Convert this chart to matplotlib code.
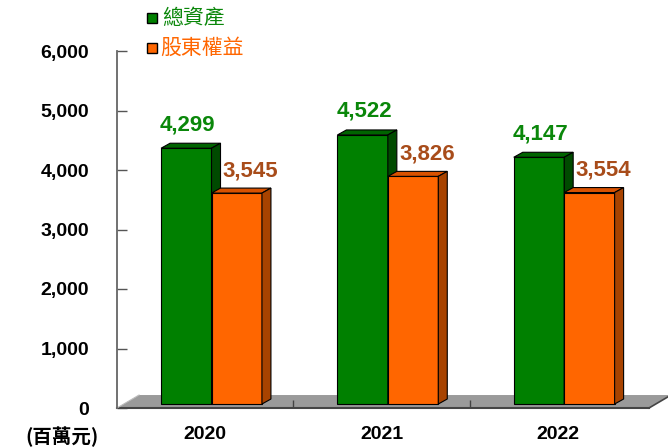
# Gráfica de barras 3D: total de activos y patrimonio (百萬元)
import numpy as np
import matplotlib.pyplot as plt
from matplotlib.patches import Polygon, Rectangle

plt.rcParams['font.family'] = ['Liberation Sans', 'Noto Sans CJK TC', 'DejaVu Sans']

# Datos
years = ['2020', '2021', '2022']
total_assets = [4299, 4522, 4147]
equity = [3545, 3826, 3554]
series_names = ['總資產', '股東權益']
unit_label = '(百萬元)'
y_ticks = [0, 1000, 2000, 3000, 4000, 5000, 6000]

# Colores (frente, tapa, lado)
green = ('#008000', '#006400', '#004a00')
orange = ('#FF6600', '#D95200', '#A84300')
green_txt, orange_txt = '#0A870A', '#A84C1A'
legend_orange = '#FF6600'

# Geometría de la profundidad
dx, dy = 0.051, 84          # profundidad de las barras
fdx, fdy = 0.125, 218       # profundidad del piso
base = 67                   # las barras se apoyan un poco atrás del borde
w = 0.286


def bar3d(ax, x0, h, clr):
    top = base + h
    ax.add_patch(Rectangle((x0, base), w, h, fc=clr[0], ec='black', lw=0.8, zorder=3))
    ax.add_patch(Polygon([(x0, top), (x0 + w, top), (x0 + w + dx, top + dy), (x0 + dx, top + dy)],
                         closed=True, fc=clr[1], ec='black', lw=0.8, zorder=3))
    ax.add_patch(Polygon([(x0 + w, base), (x0 + w + dx, base + dy), (x0 + w + dx, top + dy), (x0 + w, top)],
                         closed=True, fc=clr[2], ec='black', lw=0.8, zorder=3))


fig = plt.figure(figsize=(6.68, 4.48), dpi=100)
ax = fig.add_axes([117/668, 40/448, 529/668, 357/448])
ax.set_xlim(0, 3)
ax.set_ylim(0, 6000)

# Piso gris
xr = 3.017
ax.add_patch(Polygon([(0, 0), (xr, 0), (xr + fdx, fdy), (fdx, fdy)], closed=True,
                     fc='#9a9a9a', ec='none', zorder=1, clip_on=False))
ax.plot([0, xr], [0, 0], color='#444444', lw=1.5, zorder=2, clip_on=False)
ax.plot([xr, xr + fdx], [0, fdy], color='#444444', lw=1.2, zorder=2, clip_on=False)
ax.plot([0, fdx], [0, fdy], color='#bbbbbb', lw=0.8, zorder=2, clip_on=False)

for i in range(len(years)):
    xg = i + 0.25
    xo = xg + w
    bar3d(ax, xg, total_assets[i], green)
    bar3d(ax, xo, equity[i], orange)
    ax.annotate(f'{total_assets[i]:,}', (xg + w/2, base + total_assets[i]), xytext=(1, 17),
                textcoords='offset points', ha='center', va='center', fontsize=16,
                fontweight='bold', color=green_txt, annotation_clip=False)
    ax.annotate(f'{equity[i]:,}', (xo + w/2, base + equity[i]), xytext=(10, 16),
                textcoords='offset points', ha='center', va='center', fontsize=16,
                fontweight='bold', color=orange_txt, annotation_clip=False)

# Ejes
for s in ['top', 'right', 'bottom']:
    ax.spines[s].set_visible(False)
ax.spines['left'].set_color('#666666')
ax.spines['left'].set_linewidth(1.3)
ax.set_yticks(y_ticks)
ax.set_yticklabels([f'{v:,}' for v in y_ticks], fontsize=14, fontweight='bold')
ax.tick_params(axis='y', direction='in', length=7, width=1, color='#555555', pad=20)
ax.set_xticks([0.5, 1.5, 2.5])
ax.set_xticklabels(years, fontsize=14, fontweight='bold')
ax.set_xticks([1, 2], minor=True)
ax.tick_params(axis='x', which='major', length=0, pad=13)
ax.tick_params(axis='x', which='minor', direction='in', length=6, width=1, color='#444444')

fig.text(25/668, 1 - 437/448, unit_label, ha='left', va='center', fontsize=14,
         fontweight='bold', family=['Noto Sans CJK TC', 'DejaVu Sans'])

# Leyenda manual
for k, (name, fc, tc) in enumerate(zip(series_names, [green[0], orange[0]], [green_txt, legend_orange])):
    yc = 18 + 30*k
    fig.add_artist(Rectangle((147/668, 1 - (yc + 5)/448), 10/668, 10/448, fc=fc, ec='black',
                             lw=1, transform=fig.transFigure))
    fig.text((162 - 2*k)/668, 1 - yc/448, name, ha='left', va='center', fontsize=15, color=tc,
             family=['Noto Sans CJK TC', 'DejaVu Sans'])

fig.savefig('out.png', dpi=100)
